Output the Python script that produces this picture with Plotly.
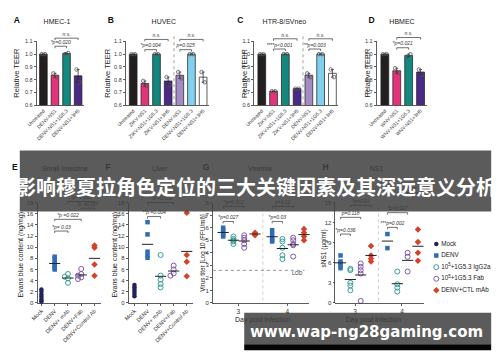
import numpy as np
import plotly.graph_objects as go

W, H = 500, 362
FONT = "Liberation Sans, Arial, sans-serif"
TXT = "#333333"

# ---------------- data: top row (relative TEER) ----------------
teer_ticks = [0.6, 0.7, 0.8, 0.9, 1.0, 1.1]
a_labels = ["Untreated", "DENV-NS1", "DENV-NS1+1G5.3", "DENV-NS1+3H5"]
a_reps = [[1.0, 1.0], [0.85, 0.82], [1.0, 1.01], [0.88, 0.78]]
b_labels = ["Untreated", "ZIKV-NS1", "ZIKV-NS1+1G5.3", "ZIKV-NS1+3H5",
            "DENV-NS1", "DENV-NS1+1G5.3", "DENV-NS1+3H5"]
b_reps = [[1.0, 1.0], [0.79, 0.75], [1.0, 1.0], [0.82, 0.76],
          [0.86, 0.81], [1.0, 1.0], [0.86, 0.78]]
c_labels = ["Untreated", "ZIKV-NS1", "ZIKV-NS1+1G5.3", "ZIKV-NS1+3H5",
            "DENV-NS1", "DENV-NS1+1G5.3", "DENV-NS1+3H5"]
c_reps = [[1.0, 1.0], [0.71, 0.71], [1.0, 1.0], [0.73, 0.73],
          [0.85, 0.82], [1.0, 1.0], [0.88, 0.82]]
d_labels = ["Untreated", "WNV-NS1", "WNV-NS1+1G5.3", "WNV-NS1+3H5"]
d_reps = [[1.0, 1.0], [0.89, 0.85], [0.98, 1.0], [0.88, 0.84]]

# ---------------- data: bottom row ----------------
ef_groups = ["Mock", "DENV", "DENV+ mAb", "DENV+Fab", "DENV+Control Ab"]
e_mock = [2.4, 2.0, 1.5, 1.1, 0.7, 0.4, 0.2]
e_denv = [8.3, 8.0, 7.4, 7.0, 6.6, 6.3, 6.0]
e_mab = [5.2, 4.7, 4.4, 3.6]
e_fab = [6.1, 5.2, 4.9, 4.6, 4.3]
e_ctl = [10.3, 9.9, 6.9, 4.9]
f_mock = [3.2, 2.8, 2.4, 2.0, 1.6, 1.2]
f_denv = [14.5, 12.3, 9.2, 8.5, 8.1]
f_mab = [8.6, 4.9, 4.2, 3.4, 2.8]
f_fab = [6.7, 6.0, 5.3, 4.9]
f_ctl = [16.2, 8.6, 7.4, 4.8]
ef_ticks = [0, 2, 4, 6, 8, 10, 12, 14, 16, 18]

days = [3, 4]
g_denv = [[6.0, 5.8, 5.6, 5.4, 5.3], [5.8, 5.5, 5.2, 5.0, 4.9]]
g_mab = [[5.3, 5.1, 5.0, 4.9, 4.7], [5.1, 4.9, 4.4, 3.8, 3.5]]
g_fab = [[5.4, 5.2, 5.0, 4.7, 4.4], [5.2, 5.0, 4.7, 4.6, 3.7]]
g_ctl = [[5.6, 5.5, 5.4], [5.9, 5.6, 5.3, 5.0]]
g_ticks = [0, 1, 2, 3, 4, 5, 6, 7, 8]
g_lod = 2.6
h_denv = [[7.1, 6.2, 5.9, 5.6, 5.2], [10.3, 8.2]]
h_mab = [[5.1, 4.9, 3.0, 2.6, 1.9], [4.7, 2.8, 2.3, 1.7]]
h_fab = [[5.9, 5.4, 4.9, 4.4, 0.3], [7.5, 6.9, 4.7]]
h_ctl = [[8.5, 7.1, 6.6, 6.2], [11.0, 9.1, 7.5, 6.3]]
h_ticks = [0, 3, 6, 9, 12, 15]

legend_names = ["Mock", "DENV", "10<sup>5</sup>+1G5.3 IgG2a",
                "10<sup>5</sup>+1G5.3 Fab", "DENV+CTL mAb"]

banner_text = "影响穆夏拉角色定位的三大关键因素及其深远意义分析"
watermark_text = "www.wap-ng28gaming.com"

# ---------------- styles ----------------
BLACK, PINK, TEAL, PURPLE = "#231f20", "#e5337b", "#14877f", "#4b2a87"
LAV, LBLUE, WHITE = "#a48bc6", "#80d0ef", "#ffffff"
C_MOCK, C_DENV, C_MAB, C_FAB, C_CTL = "#23235b", "#2e6db4", "#3a9e98", "#8257a6", "#d2432a"
grp_style = [
    dict(symbol="circle", color=C_MOCK, size=4.5),
    dict(symbol="square", color=C_DENV, size=4.5),
    dict(symbol="circle-open", color=C_MAB, size=5, line=dict(width=1, color=C_MAB)),
    dict(symbol="circle-open", color=C_FAB, size=5, line=dict(width=1, color=C_FAB)),
    dict(symbol="diamond", color=C_CTL, size=5),
]
day_offsets = [-0.31, -0.1, 0.12, 0.34]

# panel geometry in pixels (layout only)
P = {
    "A": dict(n=1, px=(27, 76), py=(39, 104), xr=(-0.6, 3.55), yr=(0.6, 1.1)),
    "B": dict(n=2, px=(118, 203), py=(39, 104), xr=(-0.65, 6.5), yr=(0.6, 1.1)),
    "C": dict(n=3, px=(249, 335), py=(39, 104), xr=(-0.66, 6.5), yr=(0.6, 1.1)),
    "D": dict(n=4, px=(374, 425), py=(39, 104), xr=(-0.7, 3.5), yr=(0.6, 1.1)),
    "E": dict(n=5, px=(28, 93), py=(203, 305), xr=(-0.3, 4.5), yr=(0, 18)),
    "F": dict(n=6, px=(121, 187), py=(203, 305), xr=(-0.45, 4.5), yr=(0, 18)),
    "G": dict(n=7, px=(207, 305), py=(203, 305), xr=(2.48, 4.44), yr=(0, 8)),
    "H": dict(n=8, px=(332, 422), py=(203, 305), xr=(2.58, 4.46), yr=(0, 15)),
}


def xr_(n):
    return "x" if n == 1 else f"x{n}"


def yr_(n):
    return "y" if n == 1 else f"y{n}"


def px_x(p, v):
    g = P[p]
    return g["px"][0] + (v - g["xr"][0]) / (g["xr"][1] - g["xr"][0]) * (g["px"][1] - g["px"][0])


def px_y(p, v):
    g = P[p]
    return g["py"][1] - (v - g["yr"][0]) / (g["yr"][1] - g["yr"][0]) * (g["py"][1] - g["py"][0])


fig = go.Figure()
shapes = []
annotations = []
OV = 9  # overlay axis covering whole canvas (pixel coordinates)


def text(x, y, s, size=6, color=TXT, pos="middle center", bold=False, italic=False, family=FONT):
    if bold:
        s = f"<b>{s}</b>"
    if italic:
        s = f"<i>{s}</i>"
    fig.add_trace(go.Scatter(x=[x], y=[y], mode="text", text=[s], textposition=pos,
                             textfont=dict(size=size, color=color, family=family),
                             xaxis=xr_(OV), yaxis=yr_(OV), showlegend=False,
                             hoverinfo="skip", cliponaxis=False))


def pline(x0, y0, x1, y1, color="#333", width=0.7, dash=None):
    shapes.append(dict(type="line", xref="paper", yref="paper", x0=x0 / W, y0=1 - y0 / H,
                       x1=x1 / W, y1=1 - y1 / H, line=dict(color=color, width=width, dash=dash)))


def bracket(p, i1, i2, yv, label, size=5):
    x1, x2, y = px_x(p, i1), px_x(p, i2), px_y(p, yv)
    d = 2
    path = (f"M {x1/W} {1-(y+d)/H} L {x1/W} {1-y/H} L {x2/W} {1-y/H} L {x2/W} {1-(y+d)/H}")
    shapes.append(dict(type="path", xref="paper", yref="paper", path=path,
                       line=dict(color="#333", width=0.7)))
    text((x1 + x2) / 2, y - 3.6, label, size=size, italic=True)


# ---------------- top row bars ----------------
top = [("A", a_labels, a_reps, [BLACK, PINK, TEAL, PURPLE]),
       ("B", b_labels, b_reps, [BLACK, PINK, TEAL, PURPLE, LAV, LBLUE, WHITE]),
       ("C", c_labels, c_reps, [BLACK, PINK, TEAL, PURPLE, LAV, LBLUE, WHITE]),
       ("D", d_labels, d_reps, [BLACK, PINK, TEAL, PURPLE])]
for key, labels, reps, cols in top:
    n = P[key]["n"]
    xs = list(range(len(labels)))
    means = [float(np.mean(r)) for r in reps]
    errs = [(max(r) - min(r)) / 2 for r in reps]
    fig.add_trace(go.Bar(x=xs, y=means, width=0.66,
                         marker=dict(color=cols, line=dict(color="#1a1a1a", width=0.7)),
                         error_y=dict(type="data", array=errs, visible=True, color="#1a1a1a",
                                      thickness=0.7, width=1.5),
                         xaxis=xr_(n), yaxis=yr_(n), showlegend=False, hoverinfo="skip"))
    px_, py_ = [], []
    for i, r in enumerate(reps):
        for j, v in enumerate(r):
            px_.append(i + (-0.14 if j == 0 else 0.14))
            py_.append(v)
    fig.add_trace(go.Scatter(x=px_, y=py_, mode="markers",
                             marker=dict(symbol="circle-open", size=3.5, color="#555",
                                         line=dict(width=0.8, color="#555")),
                             xaxis=xr_(n), yaxis=yr_(n), showlegend=False, hoverinfo="skip",
                             cliponaxis=False))

for key in ["B", "C"]:
    x = px_x(key, 3.5)
    pline(x, px_y(key, 1.14), x, px_y(key, 0.6), color="#888", width=0.8, dash="dot")

bracket("A", 1, 2, 1.062, "*p=0.020")
bracket("A", 1, 3, 1.125, "n.s.")
bracket("B", 1, 2, 1.035, "*p=0.004")
bracket("B", 1, 3, 1.115, "n.s.")
bracket("B", 4, 5, 1.035, "p=0.025")
bracket("B", 4, 6, 1.115, "n.s.")
bracket("C", 1, 2, 1.04, "****p<0.001")
bracket("C", 1, 3, 1.12, "n.s.")
bracket("C", 4, 5, 1.04, "**p=0.003")
bracket("C", 4, 6, 1.12, "n.s.")
bracket("D", 1, 2, 1.05, "*p=0.021")
bracket("D", 1, 3, 1.13, "n.s.")


# ---------------- bottom row ----------------
def swarm(p, vals, center, d=3.3):
    ppu = (P[p]["px"][1] - P[p]["px"][0]) / (P[p]["xr"][1] - P[p]["xr"][0])
    placed, xs = [], []
    for v in vals:
        y = px_y(p, v)
        off = 0
        for k in [0, -1, 1, -2, 2]:
            off = k * d
            if all((off - qx) ** 2 + (y - qy) ** 2 >= d * d for qx, qy in placed):
                break
        placed.append((off, y))
        xs.append(center + off / ppu)
    return xs


def mean_mark(p, xs, ys):
    n = P[p]["n"]
    fig.add_trace(go.Scatter(x=xs, y=ys, mode="markers",
                             marker=dict(symbol="line-ew-open", size=8, color="#222",
                                         line=dict(color="#222", width=1)),
                             xaxis=xr_(n), yaxis=yr_(n), showlegend=False, hoverinfo="skip",
                             cliponaxis=False))


for key, groups in [("E", [e_mock, e_denv, e_mab, e_fab, e_ctl]),
                    ("F", [f_mock, f_denv, f_mab, f_fab, f_ctl])]:
    n = P[key]["n"]
    mx, my = [], []
    for gi, vals in enumerate(groups):
        xs = swarm(key, vals, gi) if gi in (2, 3) else [gi] * len(vals)
        fig.add_trace(go.Scatter(x=xs, y=vals, mode="markers", marker=grp_style[gi],
                                 xaxis=xr_(n), yaxis=yr_(n), showlegend=False,
                                 hoverinfo="skip", cliponaxis=False))
        if gi > 0:
            mx.append(gi)
            my.append(float(np.mean(vals)))
    mean_mark(key, mx, my)

for key, groups in [("G", [g_denv, g_mab, g_fab, g_ctl]),
                    ("H", [h_denv, h_mab, h_fab, h_ctl])]:
    n = P[key]["n"]
    mx, my = [], []
    for gi, per_day in enumerate(groups):
        xs, ys = [], []
        for di, d in enumerate(days):
            xs += [d + day_offsets[gi]] * len(per_day[di])
            ys += per_day[di]
            mx.append(d + day_offsets[gi])
            my.append(float(np.mean(per_day[di])))
        fig.add_trace(go.Scatter(x=xs, y=ys, mode="markers", marker=grp_style[gi + 1],
                                 xaxis=xr_(n), yaxis=yr_(n), showlegend=False,
                                 hoverinfo="skip", cliponaxis=False))
    mean_mark(key, mx, my)
    x = px_x(key, 3.5)
    pline(x, P[key]["py"][0] + 5, x, P[key]["py"][1], color="#bbb", width=0.7, dash="dot")

pline(px_x("G", P["G"]["xr"][0]), px_y("G", g_lod), px_x("G", 4.35), px_y("G", g_lod),
      color="#777", width=0.8, dash="dot")
text(px_x("G", 4.2), px_y("G", g_lod) + 3.5, "LOD", size=5)

bracket("E", 1, 2, 12.9, "*p= 0.03")
bracket("E", 1, 3, 15.0, "*p =0.022")
bracket("E", 3, 4, 17.0, "*p =0.027")
bracket("E", 2, 4, 18.2, "*p =0.002")
bracket("F", 1, 2, 15.5, "**p =0.004")
bracket("F", 1, 3, 18.0, "**p =0.009")
bracket("G", 3 + day_offsets[0], 3 + day_offsets[1], 6.5, "*p=0.027")
bracket("G", 3 + day_offsets[0], 3 + day_offsets[2], 7.7, "*p=0.012")
bracket("G", 4 + day_offsets[0], 4 + day_offsets[1], 6.5, "*p=0.03")
bracket("G", 4 + day_offsets[0], 4 + day_offsets[2], 7.7, "p=0.12")
bracket("H", 3 + day_offsets[0], 3 + day_offsets[1], 10.3, "*p=0.036")
bracket("H", 3 + day_offsets[0], 3 + day_offsets[2], 12.8, "p=0.118")
bracket("H", 3 + day_offsets[1], 3 + day_offsets[3], 14.6, "*p=0.03")
bracket("H", 4 + day_offsets[0], 4 + day_offsets[1], 11.3, "***p=0.002")
bracket("H", 4 + day_offsets[0], 4 + day_offsets[2], 13.5, "*p=0.027")
bracket("H", 4 + day_offsets[2], 4 + day_offsets[3], 16.5, "ns")

# ---------------- axes ----------------
layout_axes = {}
for key, g in P.items():
    n = g["n"]
    xk = "xaxis" if n == 1 else f"xaxis{n}"
    yk = "yaxis" if n == 1 else f"yaxis{n}"
    common = dict(showline=True, linecolor="#333", linewidth=0.8, showgrid=False,
                  zeroline=False, fixedrange=True, tickcolor="#333", tickwidth=0.8,
                  tickfont=dict(size=6, color=TXT, family=FONT))
    xa = dict(common, domain=[g["px"][0] / W, g["px"][1] / W], range=list(g["xr"]),
              anchor=yr_(n))
    ya = dict(common, domain=[1 - g["py"][1] / H, 1 - g["py"][0] / H], range=list(g["yr"]),
              anchor=xr_(n), ticks="outside", ticklen=2)
    if key in "ABCD":
        labels = {"A": a_labels, "B": b_labels, "C": c_labels, "D": d_labels}[key]
        xa.update(tickmode="array", tickvals=list(range(len(labels))), ticktext=labels,
                  tickangle=-45, ticks="", tickfont=dict(size=5, color=TXT, family=FONT))
        ya.update(tickmode="array", tickvals=teer_ticks, tickformat=".1f",
                  tickfont=dict(size=5.5, color=TXT, family=FONT))
    elif key in "EF":
        xa.update(tickmode="array", tickvals=list(range(len(ef_groups))), ticktext=ef_groups,
                  tickangle=-45, ticks="outside", ticklen=2,
                  tickfont=dict(size=5.5, color=TXT, family=FONT))
        ya.update(tickmode="array", tickvals=ef_ticks)
    else:
        xa.update(tickmode="array", tickvals=days, ticktext=[str(d) for d in days],
                  ticks="outside", ticklen=2.5, tickfont=dict(size=6.5, color=TXT, family=FONT))
        ya.update(tickmode="array", tickvals=g_ticks if key == "G" else h_ticks)
    layout_axes[xk] = xa
    layout_axes[yk] = ya

layout_axes[f"xaxis{OV}"] = dict(domain=[0, 1], range=[0, W], autorange=False, visible=False,
                                 fixedrange=True, anchor=yr_(OV))
layout_axes[f"yaxis{OV}"] = dict(domain=[0, 1], range=[H, 0], autorange=False, visible=False,
                                 fixedrange=True, anchor=xr_(OV))

# ---------------- labels ----------------
for s, x, y in [("A", 7, 18), ("B", 103, 18), ("C", 235, 18), ("D", 369, 18),
                ("E", 5, 168), ("F", 100, 168), ("G", 200, 168), ("H", 322, 168)]:
    text(x, y, s, size=8.5, color="#111", bold=True)
for s, x, y in [("HMEC-1", 48, 20), ("HUVEC", 157, 20), ("HTR-8/SVneo", 280, 20),
                ("HBMEC", 400, 20), ("Small Intestine", 56, 169), ("Liver", 153, 169),
                ("Viremia", 255, 169), ("NS1", 374, 169)]:
    text(x, y, s, size=7, color="#222")
text(258, 323, "Day post infection", size=7, color="#222")
text(371, 323, "Day post infection", size=7, color="#222")

for s, x, y, sz in [("Relative TEER", 7, 71, 7.5), ("Relative TEER", 100, 71, 7.5),
                    ("Relative TEER", 240, 71, 7.5), ("Relative TEER", 365, 71, 7.5),
                    ("Evans blue content (ng/mg)", 11, 256, 7),
                    ("Evans blue content (ng/mg)", 107, 256, 7),
                    ("Virus titer [Log 10 (FFU/ml)]", 197, 254, 6.3),
                    ("sNS1 (μg/ml)", 320, 250, 6.5)]:
    annotations.append(dict(x=x / W, y=1 - y / H, xref="paper", yref="paper", text=s,
                            textangle=-90, showarrow=False, xanchor="center", yanchor="middle",
                            font=dict(size=sz, color="#222", family=FONT)))

# ---------------- legend (manual) ----------------
for i, name in enumerate(legend_names):
    y = 245 + i * 11.8
    fig.add_trace(go.Scatter(x=[435], y=[y], mode="markers", marker=grp_style[i],
                             xaxis=xr_(OV), yaxis=yr_(OV), showlegend=False,
                             hoverinfo="skip", cliponaxis=False))
    text(440, y, name, size=6.3, color="#222", pos="middle right")

# ---------------- overlay banners ----------------
shapes.append(dict(type="rect", xref="paper", yref="paper", x0=10 / W, x1=491 / W,
                   y0=1 - 212 / H, y1=1 - 150 / H, line=dict(width=0),
                   fillcolor="rgba(62,62,62,0.85)", layer="above"))
shapes.append(dict(type="rect", xref="paper", yref="paper", x0=239 / W, x1=491 / W,
                   y0=1 - 347 / H, y1=1 - 315 / H, line=dict(width=0),
                   fillcolor="rgba(62,62,62,0.85)", layer="above"))
shapes.append(dict(type="rect", xref="paper", yref="paper", x0=239 / W, x1=491 / W,
                   y0=1 - 353 / H, y1=1 - 347 / H, line=dict(width=0),
                   fillcolor="#050505", layer="above"))
annotations.append(dict(x=251 / W, y=1 - 187 / H, xref="paper", yref="paper",
                        xanchor="center", yanchor="middle",
                        text=f"<b>{banner_text}</b>", showarrow=False,
                        font=dict(size=20, color="white", family="Noto Sans CJK SC")))
annotations.append(dict(x=364 / W, y=1 - 335 / H, xref="paper", yref="paper",
                        xanchor="center", yanchor="middle",
                        text=f"<b>{watermark_text}</b>", showarrow=False,
                        font=dict(size=15, color="white", family="DejaVu Sans")))

fig.update_layout(width=W, height=H, margin=dict(l=0, r=0, t=0, b=0),
                  paper_bgcolor="white", plot_bgcolor="rgba(0,0,0,0)",
                  showlegend=False, shapes=shapes, annotations=annotations,
                  font=dict(family=FONT), **layout_axes)

# the page's default 8px body margin would shift the figure; remove it
fig.write_html("out.html", config={"displayModeBar": False, "staticPlot": True},
               post_script="document.body.style.margin='0';document.body.style.overflow='hidden';")
